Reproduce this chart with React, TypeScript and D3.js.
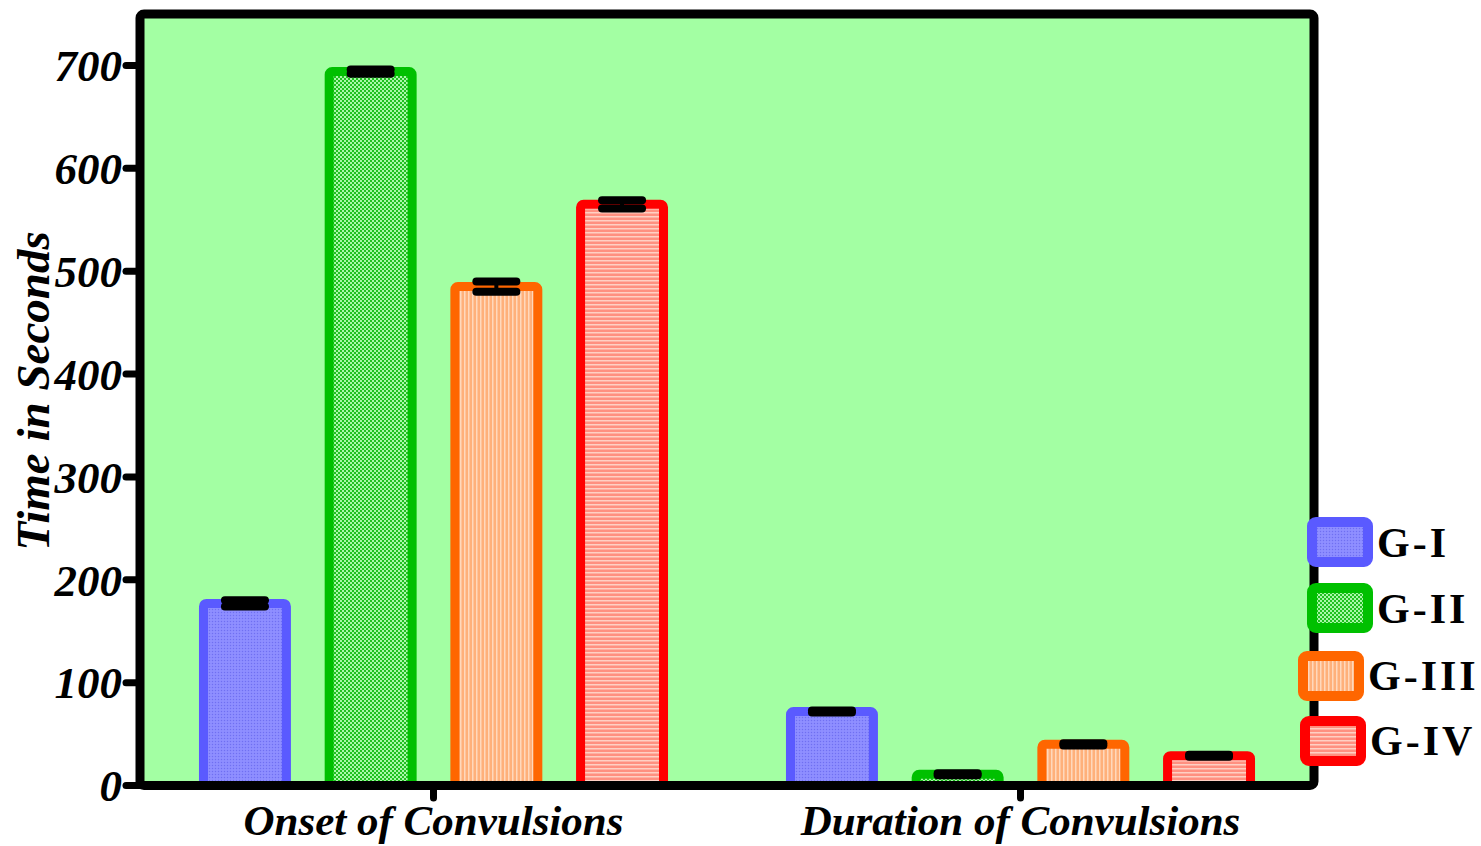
import React from "react";
import * as d3 from "d3";

const categories = ["Onset of Convulsions", "Duration of Convulsions"];
const groups = ["G-I", "G-II", "G-III", "G-IV"];
const meansOnset = [177, 694, 485, 565];
const errOnset = [3, 2, 5, 4];
const meansDuration = [72, 11, 40, 29];
const errDuration = [1, 1, 1, 1];
const yTicks = [0, 100, 200, 300, 400, 500, 600, 700];
const yTitle = "Time in Seconds";

const strokeColors = ["#5a5aff", "#00c000", "#ff6600", "#ff0000"];
const patternIds = ["patG1", "patG2", "patG3", "patG4"];

const W = 1481;
const H = 846;
const L = 140, R = 1314, T = 14, B = 785.5;

export default function App() {
  const y = d3.scaleLinear().domain([0, 750]).range([B, T]);
  const x0 = d3.scaleBand<string>().domain(categories).range([L, R]).padding(0);
  const x1 = d3
    .scaleBand<string>()
    .domain(groups)
    .range([0, x0.bandwidth()])
    .paddingInner(0.34)
    .paddingOuter(0.505);

  const series = [
    { cat: categories[0], means: meansOnset, errs: errOnset },
    { cat: categories[1], means: meansDuration, errs: errDuration },
  ];

  const serif = "'Liberation Serif', 'Times New Roman', Times, serif";

  const legendPos = [
    { x: 1312, y: 522, tx: 1377, ty: 557 },
    { x: 1312, y: 588, tx: 1377, ty: 623 },
    { x: 1303, y: 656, tx: 1368, ty: 690 },
    { x: 1305, y: 721, tx: 1370, ty: 755 },
  ];

  return (
    <svg
      width={W}
      height={H}
      style={{ position: "absolute", left: 0, top: 0, background: "#ffffff" }}
    >
      <defs>
        <pattern id="patG1" width="3" height="3" patternUnits="userSpaceOnUse">
          <rect width="3" height="3" fill="#8a8aff" />
          <rect width="1" height="1" fill="#7070f0" />
          <rect x="1.5" y="1.5" width="1" height="1" fill="#a0a0ff" />
        </pattern>
        <pattern id="patG2" width="4" height="4" patternUnits="userSpaceOnUse">
          <rect width="4" height="4" fill="#20c020" />
          <rect width="2" height="2" fill="#a8f8a8" />
          <rect x="2" y="2" width="2" height="2" fill="#a8f8a8" />
        </pattern>
        <pattern id="patG3" width="4" height="4" patternUnits="userSpaceOnUse">
          <rect width="4" height="4" fill="#ffb07a" />
          <rect width="1.5" height="4" fill="#ffd8bc" />
        </pattern>
        <pattern id="patG4" width="4" height="4" patternUnits="userSpaceOnUse">
          <rect width="4" height="4" fill="#ff9080" />
          <rect width="4" height="1.5" fill="#ffd0c4" />
        </pattern>
      </defs>

      {/* plot background */}
      <rect x={L} y={T} width={R - L} height={B - T} fill="#a3ffa3" />

      {/* bars */}
      {series.map((s) => (
        <g key={s.cat} transform={`translate(${x0(s.cat)},0)`}>
          {groups.map((g, i) => {
            const bx = x1(g)!;
            const bw = x1.bandwidth();
            const top = y(s.means[i]);
            return (
              <rect
                key={g}
                x={bx}
                y={top}
                width={bw}
                height={B - top}
                fill={`url(#${patternIds[i]})`}
                stroke={strokeColors[i]}
                strokeWidth={9}
                rx={3}
              />
            );
          })}
          {groups.map((g, i) => {
            const cx = x1(g)! + x1.bandwidth() / 2;
            const hi = y(s.means[i] + s.errs[i]);
            const lo = y(s.means[i] - s.errs[i]);
            return (
              <g key={g + "e"} stroke="#000" strokeLinecap="round">
                <line x1={cx} x2={cx} y1={hi} y2={lo} strokeWidth={4} />
                <line x1={cx - 20} x2={cx + 20} y1={hi} y2={hi} strokeWidth={8} />
                <line x1={cx - 20} x2={cx + 20} y1={lo} y2={lo} strokeWidth={8} />
              </g>
            );
          })}
        </g>
      ))}

      {/* frame */}
      <rect
        x={L}
        y={T}
        width={R - L}
        height={B - T}
        fill="none"
        stroke="#000"
        strokeWidth={9}
        rx={4}
      />

      {/* y ticks */}
      {yTicks.map((t) => (
        <g key={t}>
          <line
            x1={126}
            x2={L}
            y1={y(t)}
            y2={y(t)}
            stroke="#000"
            strokeWidth={7}
            strokeLinecap="round"
          />
          <text
            x={122}
            y={y(t)}
            dy="0.35em"
            textAnchor="end"
            fontFamily={serif}
            fontWeight="bold"
            fontStyle="italic"
            fontSize={45}
            fill="#000"
          >
            {t}
          </text>
        </g>
      ))}

      {/* x ticks & labels */}
      {categories.map((c) => {
        const cx = x0(c)! + x0.bandwidth() / 2;
        return (
          <g key={c}>
            <line
              x1={cx}
              x2={cx}
              y1={B}
              y2={798}
              stroke="#000"
              strokeWidth={7}
              strokeLinecap="round"
            />
            <text
              x={cx}
              y={835}
              textAnchor="middle"
              fontFamily={serif}
              fontWeight="bold"
              fontStyle="italic"
              fontSize={43}
              fill="#000"
            >
              {c}
            </text>
          </g>
        );
      })}

      {/* y title */}
      <text
        transform={`translate(49,391) rotate(-90)`}
        textAnchor="middle"
        fontFamily={serif}
        fontWeight="bold"
        fontStyle="italic"
        fontSize={47}
        fill="#000"
      >
        {yTitle}
      </text>

      {/* legend */}
      {groups.map((g, i) => (
        <g key={g + "l"}>
          <rect
            x={legendPos[i].x}
            y={legendPos[i].y}
            width={56}
            height={40}
            fill={`url(#${patternIds[i]})`}
            stroke={strokeColors[i]}
            strokeWidth={10}
            rx={4}
          />
          <text
            x={legendPos[i].tx}
            y={legendPos[i].ty}
            fontFamily={serif}
            fontWeight="bold"
            fontSize={42}
            letterSpacing={3}
            fill="#000"
          >
            {g}
          </text>
        </g>
      ))}
    </svg>
  );
}
